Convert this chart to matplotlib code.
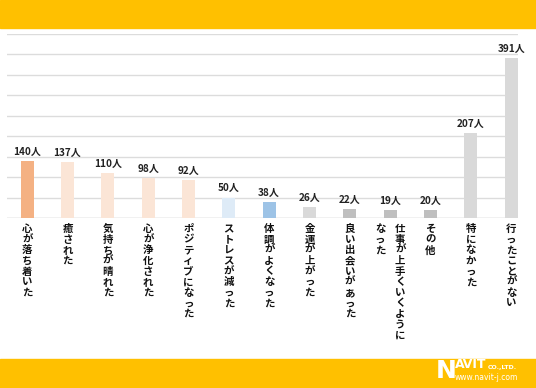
import matplotlib
matplotlib.use("Agg")
import matplotlib.pyplot as plt

plt.rcParams['font.family'] = ['Noto Sans CJK JP', 'DejaVu Sans']

categories = ["心が落ち着いた", "癒された", "気持ちが晴れた", "心が浄化された",
              "ポジティブになった", "ストレスが減った", "体調がよくなった",
              "金運が上がった", "良い出会いがあった", "仕事が上手くいくように\nなった",
              "その他", "特になかった", "行ったことがない"]
values = [140, 137, 110, 98, 92, 50, 38, 26, 22, 19, 20, 207, 391]
colors = ["#F4B183", "#FBE5D6", "#FBE5D6", "#FBE5D6", "#FBE5D6", "#DEEBF7", "#9DC3E6",
          "#D9D9D9", "#BFBFBF", "#BFBFBF", "#BFBFBF", "#D9D9D9", "#D9D9D9"]
yticks = list(range(0, 451, 50))

W, H = 536, 388
fig = plt.figure(figsize=(W / 100, H / 100), dpi=100)
fig.patch.set_facecolor("white")

# top and bottom bands
fig.add_artist(plt.Rectangle((0, 1 - 27.5 / H), 1, 27.5 / H, transform=fig.transFigure,
                             color="#FFC000", zorder=0))
fig.add_artist(plt.Rectangle((0, 0), 1, 29 / H, transform=fig.transFigure,
                             color="#FFC000", zorder=0))

left, right, top, bottom = 7, 518, 34, 218
ax = fig.add_axes([left / W, 1 - bottom / H, (right - left) / W, (bottom - top) / H])
ax.set_facecolor("none")
x = list(range(len(categories)))
ax.bar(x, values, width=0.32, color=colors, zorder=3)
ax.set_ylim(0, 450)
ax.set_xlim(-0.5, 12.17)
ax.set_yticks(yticks)
ax.yaxis.grid(True, color="#DCDCDC", linewidth=1.0, zorder=0)
ax.tick_params(left=False, bottom=False, labelleft=False, labelbottom=False)
for s in ax.spines.values():
    s.set_visible(False)
ax.axhline(0, color="#D9D9D9", linewidth=1.0, zorder=1)

for xi, v in zip(x, values):
    ax.annotate(f"{v}人", (xi, v), xytext=(0, 3), textcoords="offset points",
                ha="center", va="bottom", fontsize=7.2, fontweight="bold", color="#222222")

# vertical category labels
for xi, lab in zip(x, categories):
    cols = lab.split("\n")
    n = len(cols)
    for j, col in enumerate(cols):
        # columns go right-to-left
        dx = (n - 1) * 0.5 - j
        ax.annotate("\n".join(col), (xi, 0), xytext=(dx * 20, -6),
                    textcoords="offset pixels", ha="center", va="top",
                    fontsize=7.5, linespacing=1.08, color="#111111",
                    fontweight="bold", annotation_clip=False)

# logo
fig.text(436 / W, 5 / H, "N", color="white", fontsize=18, fontweight="bold",
         family="DejaVu Sans", ha="left", va="bottom")
fig.text(455 / W, 17 / H, "AVİT", color="white", fontsize=9, fontweight="bold",
         family="DejaVu Sans", ha="left", va="bottom")
fig.text(488 / W, 18 / H, "CO.,LTD.", color="white", fontsize=4.5, fontweight="bold",
         family="DejaVu Sans", ha="left", va="bottom")
fig.text(455 / W, 6 / H, "www.navit-j.com", color="white", fontsize=5.5,
         family="DejaVu Sans", ha="left", va="bottom")

fig.savefig("out.png", dpi=100, facecolor="white")
